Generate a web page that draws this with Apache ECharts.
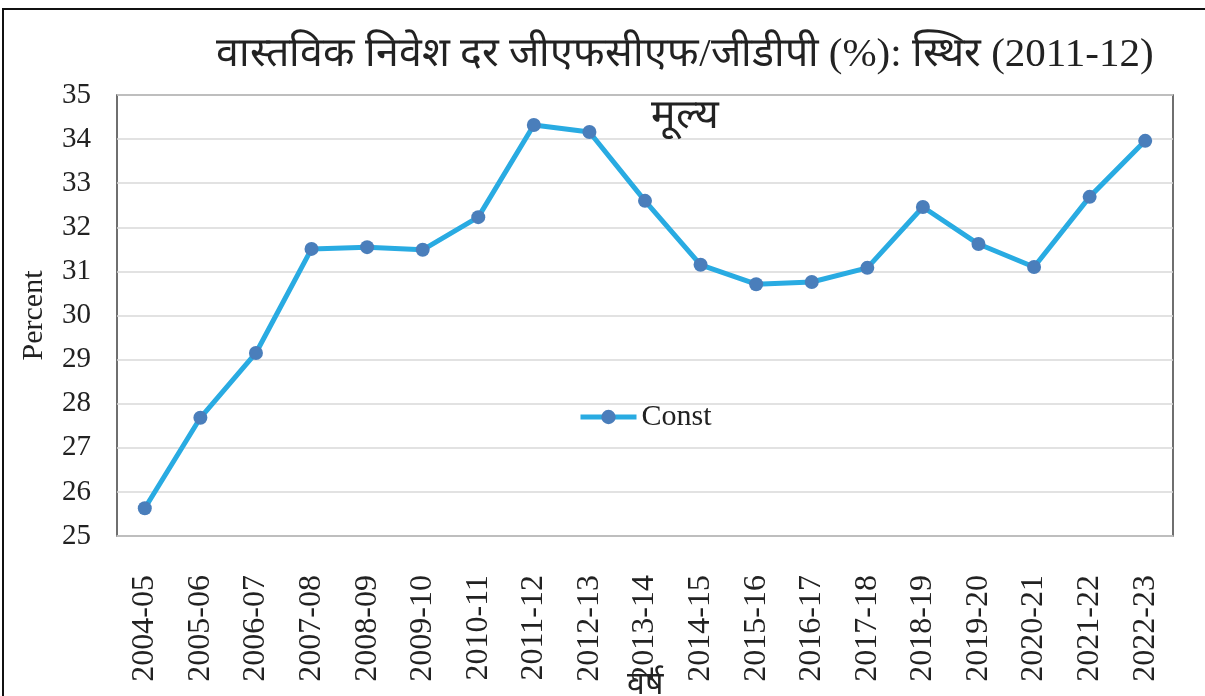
<!DOCTYPE html>
<html>
<head>
<meta charset="utf-8">
<script src="https://cdn.jsdelivr.net/npm/echarts@6/dist/echarts.min.js"></script>
<style>html,body{margin:0;padding:0;background:#fff}#c{width:1205px;height:696px}</style>
</head>
<body>
<div id="c"></div>
<script>
const categories = ['2004-05','2005-06','2006-07','2007-08','2008-09','2009-10','2010-11','2011-12','2012-13','2013-14','2014-15','2015-16','2016-17','2017-18','2018-19','2019-20','2020-21','2021-22','2022-23'];
const constValues = [25.63,27.68,29.15,31.51,31.55,31.49,32.23,34.32,34.16,32.60,31.15,30.71,30.76,31.08,32.46,31.62,31.10,32.69,33.96];
const titleText = 'वास्तविक निवेश दर जीएफसीएफ/जीडीपी (%): स्थिर (2011-12)\nमूल्य';
const seriesName = 'Const';
const yName = 'Percent';
const xName = 'वर्ष';

const serif = '"Liberation Serif", "Times New Roman", serif';
const chart = echarts.init(document.getElementById('c'));
chart.setOption({
  animation: false,
  backgroundColor: '#fff',
  title: {
    text: titleText,
    left: 680, top: 19, textAlign: 'center',
    textStyle: {fontFamily: serif, fontSize: 41, fontWeight: 'normal', color: '#222', lineHeight: 62}
  },
  graphic: [{type: 'rect', shape: {x: 3, y: 9, width: 1220, height: 700}, style: {fill: 'none', stroke: '#111', lineWidth: 2}, silent: true}],
  legend: {
    data: [seriesName], left: 573, top: 397,
    itemWidth: 56, itemHeight: 18, itemGap: 4,
    lineStyle: {width: 5},
    textStyle: {fontFamily: serif, fontSize: 30, color: '#222'}
  },
  grid: {left: 117, right: 32, top: 95, bottom: 160, show: true, borderColor: '#404040', borderWidth: 1.5, containLabel: false, outerBoundsMode: 'none'},
  xAxis: {
    type: 'category', data: categories, boundaryGap: true,
    name: xName, nameLocation: 'middle', nameGap: 134, nameMoveOverlap: false,
    nameTextStyle: {fontFamily: serif, fontSize: 32, color: '#222'},
    axisLine: {lineStyle: {color: '#bfbfbf', width: 1.5}},
    axisTick: {show: false},
    axisLabel: {rotate: 90, margin: 39, fontFamily: serif, fontSize: 32, color: '#222', interval: 0}
  },
  yAxis: {
    type: 'value', min: 25, max: 35, interval: 1,
    name: yName, nameLocation: 'middle', nameGap: 68, nameMoveOverlap: false,
    nameTextStyle: {fontFamily: serif, fontSize: 30, color: '#222'},
    axisLine: {show: false}, axisTick: {show: false},
    axisLabel: {margin: 26, fontFamily: serif, fontSize: 29, color: '#222'},
    splitLine: {lineStyle: {color: '#d9d9d9', width: 1.5}}
  },
  series: [{
    name: seriesName, type: 'line', data: constValues,
    symbol: 'circle', symbolSize: 14,
    lineStyle: {color: '#29ABE2', width: 5},
    itemStyle: {color: '#4A7EBB'}
  }]
});
</script>
</body>
</html>
